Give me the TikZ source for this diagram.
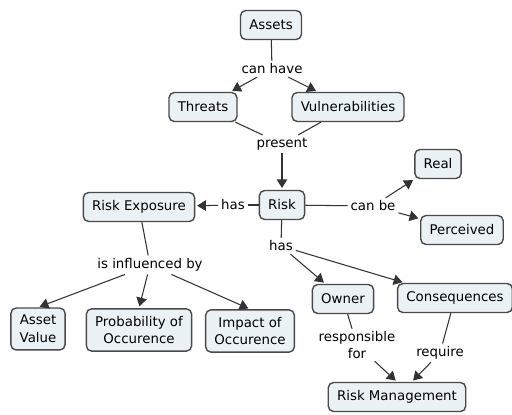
\documentclass[tikz,border=0pt]{standalone}
\usepackage{fontspec}
\setmainfont{DejaVu Sans}
\usetikzlibrary{arrows.meta}
\definecolor{boxfill}{HTML}{EAF2F6}
\definecolor{boxline}{HTML}{4A4A4A}
\definecolor{linkline}{HTML}{333333}
\begin{document}
\begin{tikzpicture}[x=0.02cm, y=-0.02cm,
            concept/.style={draw=boxline, line width=0.8pt, fill=boxfill, rounded corners=3pt,
                  align=center, inner xsep=5pt, inner ysep=4pt, minimum height=0.58cm,
                  font=\fontsize{7.6}{10.2}\selectfont},
            linker/.style={align=center, inner sep=1.5pt, font=\fontsize{7.6}{9.2}\selectfont},
            link/.style={draw=linkline, line width=0.6pt},
            arr/.style={link, -{Triangle[length=5pt, width=6pt]}, shorten >=1pt}]
            \useasboundingbox (0,0) rectangle (512,415);

            \node[concept] (assets) at (271,25) {Assets};
            \node[concept] (threats) at (203,107) {Threats};
            \node[concept] (vuln) at (348,107) {Vulnerabilities};
            \node[concept] (risk) at (282,205) {Risk};
            \node[concept] (riskexp) at (139,207) {Risk Exposure};
            \node[concept] (real) at (438,164) {Real};
            \node[concept] (perceived) at (462,230) {Perceived};
            \node[concept] (assetval) at (38,329) {Asset\\Value};
            \node[concept] (prob) at (139,330) {Probability of\\Occurence};
            \node[concept] (impact) at (250,331) {Impact of\\Occurence};
            \node[concept] (owner) at (343,299) {Owner};
            \node[concept] (cons) at (455,298) {Consequences};
            \node[concept] (riskmgmt) at (397,397) {Risk Management};

            \node[linker] (canhave) at (272,69) {can have};
            \node[linker] (present) at (282,144) {present};
            \node[linker] (hasleft) at (233,205) {has};
            \node[linker] (canbe) at (373,206) {can be};
            \node[linker] (hasdown) at (281,246) {has};
            \node[linker] (influenced) at (150,265) {is influenced by};
            \node[linker] (resp) at (357,345) {responsible\\for};
            \node[linker] (require) at (440,353) {require};

            \draw[link] (assets) -- (canhave);
            \draw[arr] (canhave) -- (threats);
            \draw[arr] (canhave) -- (vuln);

            \draw[link] (threats) -- (present);
            \draw[link] (vuln) -- (present);
            \draw[arr] (present) -- (risk);

            \draw[link] (risk) -- (hasleft);
            \draw[arr] (hasleft) -- (riskexp);

            \draw[link] (risk) -- (canbe);
            \draw[arr] (canbe) -- (real);
            \draw[arr] (canbe) -- (perceived);

            \draw[link] (risk) -- (hasdown);
            \draw[arr] (hasdown) -- (owner);
            \draw[arr] (hasdown) -- (cons);

            \draw[link] (riskexp) -- (influenced);
            \draw[arr] (influenced) -- (assetval.north);
            \draw[arr] (influenced) -- (prob.north);
            \draw[arr] (influenced) -- (impact.north);

            \draw[link] (owner) -- (resp);
            \draw[arr] (resp) -- (riskmgmt.north);
            \draw[link] (cons) -- (require);
            \draw[arr] (require) -- (riskmgmt);
      \end{tikzpicture}
\end{document}
